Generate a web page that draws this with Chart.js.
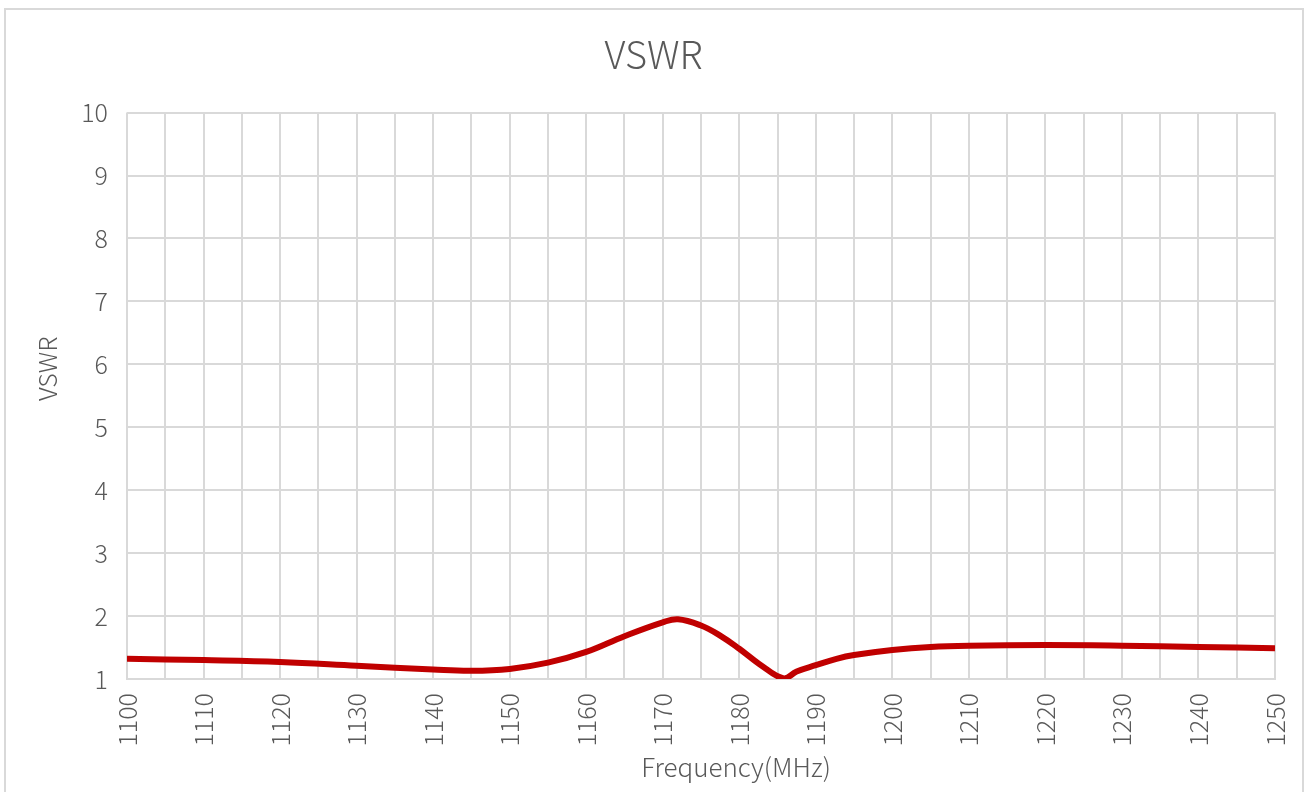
<!DOCTYPE html>
<html>
<head>
<meta charset="utf-8">
<script src="https://cdn.jsdelivr.net/npm/chart.js@4"></script>
<style>
  html, body { margin: 0; padding: 0; background: #fff; }
  #wrap { position: absolute; left: 0; top: 0; width: 1307px; height: 792px; }
</style>
</head>
<body>
<div id="wrap"><canvas id="myChart" width="1307" height="792"></canvas></div>
<script>
// frequency (MHz) and VSWR
freq = [1100, 1110, 1120, 1130, 1140, 1145, 1150, 1155, 1160, 1165, 1170, 1172, 1175, 1177.5, 1180, 1182.6, 1185.8, 1187.5, 1190, 1192.7, 1195, 1200, 1205, 1210, 1220, 1230, 1240, 1250]
vswr = [1.32, 1.30, 1.27, 1.21, 1.15, 1.13, 1.16, 1.26, 1.43, 1.68, 1.90, 1.95, 1.85, 1.69, 1.48, 1.24, 1.01, 1.12, 1.22, 1.32, 1.38, 1.46, 1.51, 1.53, 1.54, 1.53, 1.51, 1.49]
yTicks = [1, 2, 3, 4, 5, 6, 7, 8, 9, 10]
xTitle = 'Frequency(MHz)'
yTitle = 'VSWR'

const FONT = "'Noto Sans CJK SC', 'Noto Sans', sans-serif"
const points = []
for (i = 0; i < freq.length; i++) {
    points.push({x: freq[i], y: vswr[i]})
}

// outer border like the Excel chart frame
const frame = {
    id: 'frame',
    beforeDraw(chart) {
        const c = chart.ctx
        c.save()
        c.fillStyle = '#fff'
        c.fillRect(0, 0, chart.width, chart.height)
        c.strokeStyle = '#d9d9d9'
        c.lineWidth = 2
        c.strokeRect(5, 9, 1298, 800)
        c.restore()
    }
}

// axis titles sit a bit off-centre in the original, so draw them by hand
const axisTitles = {
    id: 'axisTitles',
    afterDraw(chart) {
        const c = chart.ctx
        const a = chart.chartArea
        c.save()
        c.fillStyle = '#595959'
        c.font = '300 26px ' + FONT
        c.textAlign = 'center'
        c.textBaseline = 'alphabetic'
        c.fillText(xTitle, (a.left + a.right) / 2 + 35, 777)
        c.translate(47, (a.top + a.bottom) / 2 - 27)
        c.rotate(-Math.PI / 2)
        c.font = '300 25px ' + FONT
        c.textBaseline = 'middle'
        c.fillText(yTitle, 0, 0)
        c.restore()
    }
}

const ctx = document.getElementById('myChart').getContext('2d')
const myChart = new Chart(ctx, {
    type: 'line',
    data: {
        datasets: [{
            label: 'VSWR',
            data: points,
            borderColor: '#c00000',
            borderWidth: 6,
            borderCapStyle: 'butt',
            borderJoinStyle: 'round',
            pointRadius: 0,
            fill: false,
            tension: 0.4
        }]
    },
    options: {
        responsive: false,
        animation: false,
        layout: { padding: 0 },
        plugins: {
            legend: { display: false },
            tooltip: { enabled: false },
            title: {
                display: true,
                text: 'VSWR',
                color: '#595959',
                font: { family: FONT, size: 38, weight: 300, lineHeight: 1.2 },
                padding: { top: 32, bottom: 35 }
            }
        },
        scales: {
            x: {
                type: 'linear',
                min: 1100,
                max: 1250,
                afterFit(scale) {
                    scale.height = 113
                    scale.paddingLeft = 0
                    scale.paddingRight = 32
                },
                afterBuildTicks(scale) {
                    scale.ticks = []
                    for (let v = 1100; v <= 1250; v += 5) scale.ticks.push({value: v})
                },
                grid: { color: '#d9d9d9', lineWidth: 2, drawTicks: false },
                border: { color: '#d9d9d9', width: 2 },
                ticks: {
                    color: '#595959',
                    font: { family: FONT, size: 25, weight: 300 },
                    minRotation: 90,
                    maxRotation: 90,
                    padding: 14,
                    autoSkip: false,
                    callback: v => (v % 10 === 0 ? String(v) : '')
                }
            },
            y: {
                min: 1,
                max: 10,
                afterFit(scale) { scale.width = 127 },
                afterBuildTicks(scale) {
                    scale.ticks = yTicks.map(v => ({value: v}))
                },
                grid: { color: '#d9d9d9', lineWidth: 2, drawTicks: false },
                border: { display: false },
                ticks: {
                    color: '#595959',
                    font: { family: FONT, size: 25, weight: 300 },
                    padding: 19
                }
            }
        }
    },
    plugins: [frame, axisTitles]
})
</script>
</body>
</html>
